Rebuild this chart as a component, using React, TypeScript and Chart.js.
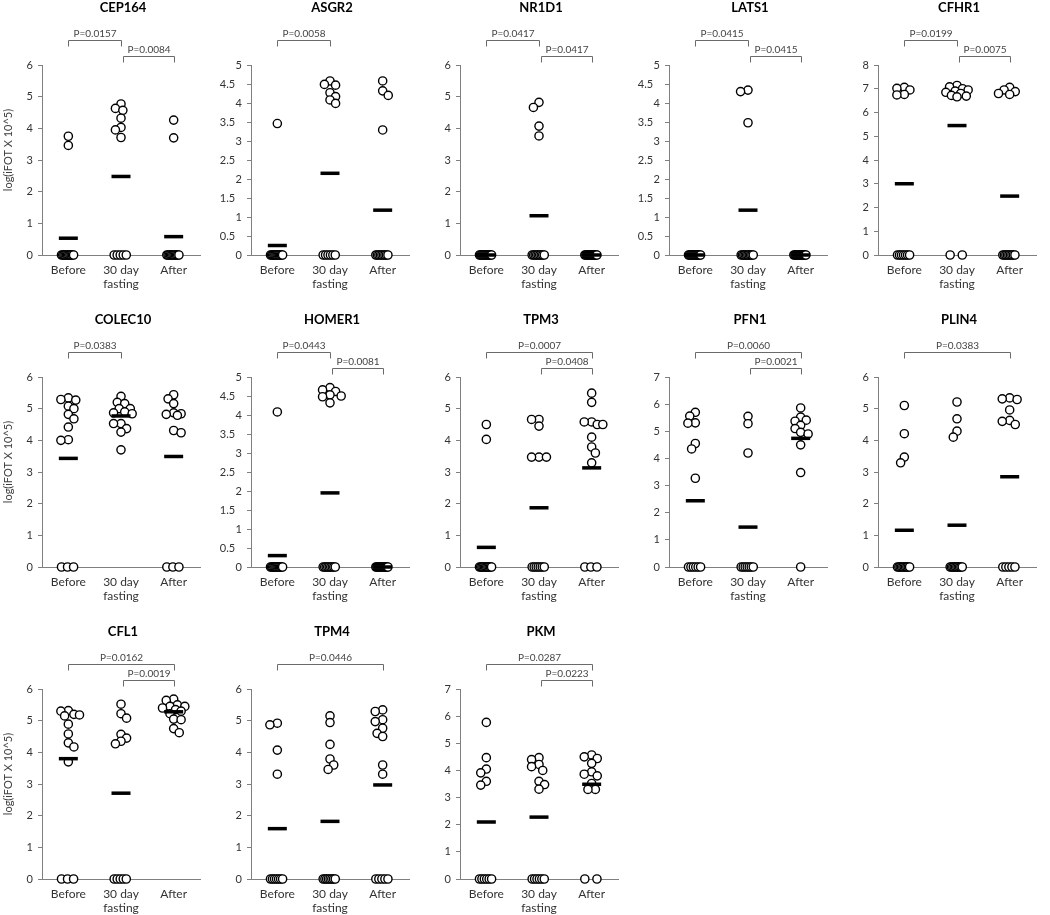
import React, { useEffect, useRef } from "react";
import { Chart, registerables } from "chart.js";

Chart.register(...registerables);
Chart.defaults.font.family = "Lato, 'Open Sans', sans-serif";

const GROUP_LABELS: (string | string[])[] = ["Before", ["30 day", "fasting"], "After"];
const Y_TITLE = "log(iFOT X 10^5)";

// ---- CEP164 ----
const CEP164_BEFORE = [3.75, 3.46, 0, 0, 0, 0, 0, 0, 0, 0, 0, 0, 0];
const CEP164_FASTING = [4.77, 4.63, 4.57, 4.32, 4.03, 3.95, 3.71, 0, 0, 0, 0, 0];
const CEP164_AFTER = [4.26, 3.7, 0, 0, 0, 0, 0, 0, 0, 0, 0, 0, 0];
const CEP164_MEANS = [0.53, 2.48, 0.58];
const CEP164_TESTS: [string, number, number][] = [["P=0.0157", 0, 1], ["P=0.0084", 1, 2]];

// ---- ASGR2 ----
const ASGR2_BEFORE = [3.46, 0, 0, 0, 0, 0, 0, 0, 0, 0, 0, 0, 0];
const ASGR2_FASTING = [4.58, 4.49, 4.47, 4.27, 4.17, 4.08, 3.99, 0, 0, 0, 0, 0, 0];
const ASGR2_AFTER = [4.58, 4.32, 4.2, 3.29, 0, 0, 0, 0, 0, 0, 0, 0, 0];
const ASGR2_MEANS = [0.25, 2.15, 1.18];
const ASGR2_TESTS: [string, number, number][] = [["P=0.0058", 0, 1]];

// ---- NR1D1 ----
const NR1D1_BEFORE = [0, 0, 0, 0, 0, 0, 0, 0, 0, 0, 0, 0, 0];
const NR1D1_FASTING = [4.82, 4.66, 4.07, 3.76, 0, 0, 0, 0, 0, 0, 0, 0, 0];
const NR1D1_AFTER = [0, 0, 0, 0, 0, 0, 0, 0, 0, 0, 0, 0, 0];
const NR1D1_MEANS = [0, 1.24, 0];
const NR1D1_TESTS: [string, number, number][] = [["P=0.0417", 0, 1], ["P=0.0417", 1, 2]];

// ---- LATS1 ----
const LATS1_BEFORE = [0, 0, 0, 0, 0, 0, 0, 0, 0, 0, 0, 0, 0];
const LATS1_FASTING = [4.34, 4.3, 3.48, 0, 0, 0, 0, 0, 0, 0, 0, 0, 0];
const LATS1_AFTER = [0, 0, 0, 0, 0, 0, 0, 0, 0, 0, 0, 0, 0];
const LATS1_MEANS = [0, 1.18, 0];
const LATS1_TESTS: [string, number, number][] = [["P=0.0415", 0, 1], ["P=0.0415", 1, 2]];

// ---- CFHR1 ----
const CFHR1_BEFORE = [7.06, 7.02, 6.95, 6.76, 6.74, 0, 0, 0, 0, 0, 0, 0];
const CFHR1_FASTING = [7.14, 7.08, 7.0, 6.95, 6.9, 6.85, 6.8, 6.72, 6.69, 6.66, 0, 0];
const CFHR1_AFTER = [7.06, 6.95, 6.88, 6.8, 6.76, 0, 0, 0, 0, 0, 0, 0, 0, 0];
const CFHR1_MEANS = [3.0, 5.45, 2.48];
const CFHR1_TESTS: [string, number, number][] = [["P=0.0199", 0, 1], ["P=0.0075", 1, 2]];

// ---- COLEC10 ----
const COLEC10_BEFORE = [5.34, 5.29, 5.27, 5.08, 5.0, 4.82, 4.68, 4.42, 4.02, 4.0, 0, 0, 0];
const COLEC10_FASTING = [5.39, 5.2, 5.16, 5.0, 5.0, 4.9, 4.87, 4.84, 4.53, 4.53, 4.37, 4.26, 3.7];
const COLEC10_AFTER = [5.44, 5.31, 5.16, 4.87, 4.84, 4.82, 4.79, 4.31, 4.24, 0, 0, 0];
const COLEC10_MEANS = [3.43, 4.77, 3.49];
const COLEC10_TESTS: [string, number, number][] = [["P=0.0383", 0, 1]];

// ---- HOMER1 ----
const HOMER1_BEFORE = [4.08, 0, 0, 0, 0, 0, 0, 0, 0, 0, 0, 0, 0];
const HOMER1_FASTING = [4.72, 4.66, 4.62, 4.53, 4.5, 4.48, 4.32, 0, 0, 0, 0, 0, 0, 0, 0, 0];
const HOMER1_AFTER = [0, 0, 0, 0, 0, 0, 0, 0, 0, 0, 0, 0, 0];
const HOMER1_MEANS = [0.3, 1.95, 0];
const HOMER1_TESTS: [string, number, number][] = [["P=0.0443", 0, 1], ["P=0.0081", 1, 2]];

// ---- TPM3 ----
const TPM3_BEFORE = [4.5, 4.03, 0, 0, 0, 0, 0, 0, 0, 0, 0, 0, 0];
const TPM3_FASTING = [4.66, 4.66, 4.45, 3.47, 3.47, 3.47, 0, 0, 0, 0, 0, 0, 0];
const TPM3_AFTER = [5.49, 5.2, 4.58, 4.58, 4.5, 4.5, 4.1, 3.79, 3.6, 3.29, 0, 0, 0];
const TPM3_MEANS = [0.62, 1.87, 3.13];
const TPM3_TESTS: [string, number, number][] = [["P=0.0007", 0, 2], ["P=0.0408", 1, 2]];

// ---- PFN1 ----
const PFN1_BEFORE = [5.7, 5.56, 5.31, 5.3, 4.55, 4.35, 3.27, 0, 0, 0, 0, 0, 0];
const PFN1_FASTING = [5.55, 5.28, 4.2, 0, 0, 0, 0, 0, 0, 0];
const PFN1_AFTER = [5.86, 5.52, 5.41, 5.37, 5.22, 5.1, 4.96, 4.9, 4.5, 3.48, 0];
const PFN1_MEANS = [2.44, 1.47, 4.74];
const PFN1_TESTS: [string, number, number][] = [["P=0.0060", 0, 2], ["P=0.0021", 1, 2]];

// ---- PLIN4 ----
const PLIN4_BEFORE = [5.1, 4.21, 3.47, 3.29, 0, 0, 0, 0, 0, 0, 0, 0, 0, 0];
const PLIN4_FASTING = [5.21, 4.68, 4.29, 4.1, 0, 0, 0, 0, 0, 0, 0, 0, 0, 0];
const PLIN4_AFTER = [5.34, 5.31, 5.29, 4.96, 4.63, 4.6, 4.5, 0, 0, 0, 0, 0];
const PLIN4_MEANS = [1.16, 1.32, 2.85];
const PLIN4_TESTS: [string, number, number][] = [["P=0.0383", 0, 2]];

// ---- CFL1 ----
const CFL1_BEFORE = [5.32, 5.3, 5.2, 5.18, 5.15, 4.89, 4.58, 4.3, 4.17, 3.7, 0, 0, 0];
const CFL1_FASTING = [5.52, 5.22, 5.08, 4.57, 4.45, 4.35, 4.27, 0, 0, 0, 0, 0];
const CFL1_AFTER = [5.68, 5.64, 5.5, 5.45, 5.45, 5.4, 5.35, 5.3, 5.22, 5.05, 5.03, 4.75, 4.62];
const CFL1_MEANS = [3.8, 2.71, 5.28];
const CFL1_TESTS: [string, number, number][] = [["P=0.0162", 0, 2], ["P=0.0019", 1, 2]];

// ---- TPM4 ----
const TPM4_BEFORE = [4.92, 4.87, 4.07, 3.31, 0, 0, 0, 0, 0, 0, 0];
const TPM4_FASTING = [5.15, 4.94, 4.25, 3.79, 3.6, 3.46, 0, 0, 0, 0, 0, 0, 0, 0];
const TPM4_AFTER = [5.34, 5.29, 5.03, 4.97, 4.76, 4.6, 4.5, 3.6, 3.31, 0, 0, 0, 0, 0];
const TPM4_MEANS = [1.59, 1.82, 2.97];
const TPM4_TESTS: [string, number, number][] = [["P=0.0446", 0, 2]];

// ---- PKM ----
const PKM_BEFORE = [5.77, 4.47, 4.05, 3.91, 3.6, 3.46, 0, 0, 0, 0, 0, 0];
const PKM_FASTING = [4.47, 4.4, 4.22, 4.14, 4.0, 3.6, 3.48, 3.31, 0, 0, 0, 0, 0, 0];
const PKM_AFTER = [4.57, 4.5, 4.44, 4.26, 3.95, 3.86, 3.8, 3.52, 3.3, 3.3, 0, 0];
const PKM_MEANS = [2.1, 2.28, 3.49];
const PKM_TESTS: [string, number, number][] = [["P=0.0287", 0, 2], ["P=0.0223", 1, 2]];

type PanelDef = {
  title: string;
  groups: number[][];
  means: number[];
  tests: [string, number, number][];
  yMax: number;
  step: number;
};

const PANELS: PanelDef[] = [
  { title: "CEP164", groups: [CEP164_BEFORE, CEP164_FASTING, CEP164_AFTER], means: CEP164_MEANS, tests: CEP164_TESTS, yMax: 6, step: 1 },
  { title: "ASGR2", groups: [ASGR2_BEFORE, ASGR2_FASTING, ASGR2_AFTER], means: ASGR2_MEANS, tests: ASGR2_TESTS, yMax: 5, step: 0.5 },
  { title: "NR1D1", groups: [NR1D1_BEFORE, NR1D1_FASTING, NR1D1_AFTER], means: NR1D1_MEANS, tests: NR1D1_TESTS, yMax: 6, step: 1 },
  { title: "LATS1", groups: [LATS1_BEFORE, LATS1_FASTING, LATS1_AFTER], means: LATS1_MEANS, tests: LATS1_TESTS, yMax: 5, step: 0.5 },
  { title: "CFHR1", groups: [CFHR1_BEFORE, CFHR1_FASTING, CFHR1_AFTER], means: CFHR1_MEANS, tests: CFHR1_TESTS, yMax: 8, step: 1 },
  { title: "COLEC10", groups: [COLEC10_BEFORE, COLEC10_FASTING, COLEC10_AFTER], means: COLEC10_MEANS, tests: COLEC10_TESTS, yMax: 6, step: 1 },
  { title: "HOMER1", groups: [HOMER1_BEFORE, HOMER1_FASTING, HOMER1_AFTER], means: HOMER1_MEANS, tests: HOMER1_TESTS, yMax: 5, step: 0.5 },
  { title: "TPM3", groups: [TPM3_BEFORE, TPM3_FASTING, TPM3_AFTER], means: TPM3_MEANS, tests: TPM3_TESTS, yMax: 6, step: 1 },
  { title: "PFN1", groups: [PFN1_BEFORE, PFN1_FASTING, PFN1_AFTER], means: PFN1_MEANS, tests: PFN1_TESTS, yMax: 7, step: 1 },
  { title: "PLIN4", groups: [PLIN4_BEFORE, PLIN4_FASTING, PLIN4_AFTER], means: PLIN4_MEANS, tests: PLIN4_TESTS, yMax: 6, step: 1 },
  { title: "CFL1", groups: [CFL1_BEFORE, CFL1_FASTING, CFL1_AFTER], means: CFL1_MEANS, tests: CFL1_TESTS, yMax: 6, step: 1 },
  { title: "TPM4", groups: [TPM4_BEFORE, TPM4_FASTING, TPM4_AFTER], means: TPM4_MEANS, tests: TPM4_TESTS, yMax: 6, step: 1 },
  { title: "PKM", groups: [PKM_BEFORE, PKM_FASTING, PKM_AFTER], means: PKM_MEANS, tests: PKM_TESTS, yMax: 7, step: 1 },
];

const PLOT_W = 170;
const PLOT_H = 190;
const PLOT_TOP = 65;
const PLOT_LEFT = 42;
const CANVAS_W = 213;

// Deterministic beeswarm-like horizontal spread (in x data units), tight with slight overlap
function swarmOffsets(values: number[], yMax: number): number[] {
  const pxX = PLOT_W / 3;
  const pxY = PLOT_H / yMax;
  const out = new Array(values.length).fill(0);
  const zeros = values.map((v, i) => (v === 0 ? i : -1)).filter((i) => i >= 0);
  zeros.forEach((idx, k) => {
    out[idx] = zeros.length === 1 ? 0 : -0.13 + (0.23 * k) / (zeros.length - 1);
  });
  const nz = values
    .map((_, i) => i)
    .filter((i) => values[i] !== 0)
    .sort((a, b) => values[b] - values[a]);
  const placed: { x: number; y: number }[] = [];
  nz.forEach((idx, n) => {
    const y = values[idx] * pxY;
    const s = n % 2 === 0 ? 1 : -1;
    let best = 0;
    let bestD = -1;
    let done = false;
    for (let k = 0; k <= 6 && !done; k++) {
      const cands = k === 0 ? [0] : [s * k * 2, -s * k * 2];
      for (const c of cands) {
        const d = placed.reduce((m, p) => Math.min(m, Math.hypot(p.x - c, p.y - y)), Infinity);
        if (d >= 6.5) {
          best = c;
          done = true;
          break;
        }
        if (d > bestD) {
          bestD = d;
          best = c;
        }
      }
    }
    placed.push({ x: best, y });
    out[idx] = best / pxX;
  });
  return out;
}

function Panel({ def, col, row }: { def: PanelDef; col: number; row: number }) {
  const ref = useRef<HTMLCanvasElement | null>(null);
  const H = row === 2 ? 291 : 300;

  useEffect(() => {
    if (!ref.current) return;
    const pointSets = def.groups.map((vals, gi) => {
      const offs = swarmOffsets(vals, def.yMax);
      return {
        data: vals.map((v, j) => ({ x: gi + offs[j], y: v })),
        pointRadius: 4.1,
        pointBorderWidth: 1.4,
        pointBackgroundColor: "#ffffff",
        pointBorderColor: "#000000",
        showLine: false,
        clip: false as any,
      };
    });
    const meanSet = {
      data: def.means.map((m, i) => ({ x: i, y: m })),
      pointStyle: "line" as const,
      pointRadius: 9.5,
      pointBorderWidth: 3.5,
      pointBorderColor: "#000000",
      borderColor: "#000000",
      showLine: false,
      clip: false as any,
    };

    const annot = {
      id: "panelAnnot",
      afterDraw(chart: any) {
        const ctx = chart.ctx as CanvasRenderingContext2D;
        const ca = chart.chartArea;
        const xs = chart.scales.x;
        ctx.save();
        // title
        ctx.fillStyle = "#000";
        ctx.font = "bold 13px Lato, 'Open Sans', sans-serif";
        ctx.textAlign = "center";
        ctx.textBaseline = "middle";
        ctx.fillText(def.title, (ca.left + ca.right) / 2 + 2, 8);
        // brackets
        const levels = [40, 56];
        def.tests.forEach(([label, a, b], k) => {
          const y = levels[k] + 0.5;
          const xa = Math.round(xs.getPixelForValue(a) + (k === 1 ? 2 : 0)) + 0.5;
          const xb = Math.round(xs.getPixelForValue(b)) + 0.5;
          ctx.strokeStyle = "#6a6a6a";
          ctx.lineWidth = 1;
          ctx.beginPath();
          ctx.moveTo(xa, y + 6);
          ctx.lineTo(xa, y);
          ctx.lineTo(xb, y);
          ctx.lineTo(xb, y + 6);
          ctx.stroke();
          ctx.fillStyle = "#444";
          ctx.font = "10px Lato, 'Open Sans', sans-serif";
          ctx.textAlign = "center";
          ctx.textBaseline = "middle";
          ctx.fillText(label, (xa + xb) / 2, y - 7);
        });
        // y title on first column
        if (col === 0) {
          ctx.translate(8, 150);
          ctx.rotate(-Math.PI / 2);
          ctx.fillStyle = "#404040";
          ctx.font = "11px Lato, 'Open Sans', sans-serif";
          ctx.textAlign = "center";
          ctx.textBaseline = "middle";
          ctx.fillText(Y_TITLE, 0, 0);
        }
        ctx.restore();
      },
    };

    const chart = new Chart(ref.current, {
      type: "scatter",
      data: { datasets: [meanSet as any, ...pointSets] },
      options: {
        animation: false,
        responsive: false,
        devicePixelRatio: 1,
        events: [],
        layout: { padding: { top: PLOT_TOP, right: CANVAS_W - PLOT_LEFT - PLOT_W, left: 0, bottom: 0 } },
        plugins: {
          legend: { display: false },
          tooltip: { enabled: false },
          title: { display: false },
        },
        scales: {
          x: {
            type: "linear",
            min: -0.5,
            max: 2.5,
            afterBuildTicks: (s: any) => {
              s.ticks = [0, 1, 2].map((v) => ({ value: v }));
            },
            afterFit: (s: any) => {
              s.height = H - PLOT_TOP - PLOT_H;
            },
            grid: { display: false, drawTicks: false },
            border: { color: "#808080", width: 1 },
            ticks: {
              padding: 8,
              color: "#333",
              font: { size: 12 },
              maxRotation: 0,
              autoSkip: false,
              callback: (v: any) => GROUP_LABELS[v as number] as any,
            },
          },
          y: {
            min: 0,
            max: def.yMax,
            afterFit: (s: any) => {
              s.width = PLOT_LEFT;
            },
            ticks: {
              stepSize: def.step,
              padding: 5,
              color: "#333",
              font: { size: 11 },
              callback: (v: any) => (Number.isInteger(v) ? String(v) : String(v) + "\u2002\u2009"),
            },
            grid: { drawOnChartArea: false, tickLength: 4, color: "#808080" },
            border: { color: "#808080", width: 1 },
          },
        },
      },
      plugins: [annot],
    });
    return () => chart.destroy();
  }, [def, col, row, H]);

  return (
    <canvas
      ref={ref}
      width={CANVAS_W}
      height={H}
      style={{ position: "absolute", left: col * 209, top: row * 312, width: CANVAS_W, height: H }}
    />
  );
}

export default function App() {
  return (
    <div
      style={{
        position: "absolute",
        left: 0,
        top: 0,
        width: 1050,
        height: 915,
        background: "#ffffff",
        overflow: "hidden",
      }}
    >
      {PANELS.map((p, i) => (
        <Panel key={p.title} def={p} col={i % 5} row={Math.floor(i / 5)} />
      ))}
    </div>
  );
}
